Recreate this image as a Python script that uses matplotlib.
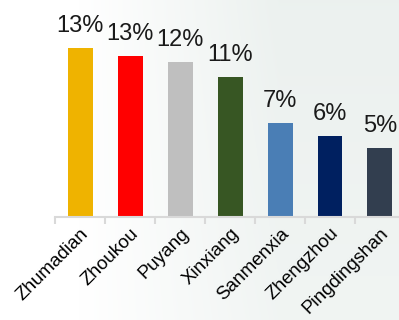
import numpy as np
import matplotlib.pyplot as plt

cities = ['Zhumadian', 'Zhoukou', 'Puyang', 'Xinxiang', 'Sanmenxia', 'Zhengzhou', 'Pingdingshan']
shares = [13.0, 12.4, 11.9, 10.8, 7.2, 6.2, 5.3]
share_labels = ['13%', '13%', '12%', '11%', '7%', '6%', '5%']
colors = ['#EFB300', '#FF0000', '#BFBFBF', '#375623', '#4A7EB5', '#002060', '#323E4F']

plt.rcParams['font.family'] = ['Liberation Sans', 'DejaVu Sans']

fig = plt.figure(figsize=(3.99, 3.2), dpi=100)

# faint background wash, white on the left fading to pale grey-green
bg = fig.add_axes([0, 0, 1, 1], zorder=0)
gx = np.linspace(0, 1, 200)
gy = np.linspace(0, 1, 160)
X, Y = np.meshgrid(gx, gy)
t = np.clip((X - 0.2) / 0.5, 0, 1) * (0.75 + 0.25 * Y)
white = np.array([1.0, 1.0, 1.0])
tint = np.array([0.925, 0.945, 0.937])
img = white * (1 - t[..., None]) + tint * t[..., None]
bg.imshow(img, extent=[0, 1, 0, 1], aspect='auto', origin='lower')
bg.axis('off')

ax = fig.add_axes([0.138, 0.323, 0.877, 0.5675], zorder=1)
ax.patch.set_alpha(0)

x = np.arange(len(cities))
bars = ax.bar(x, shares, width=0.5, color=colors)
for b, lab in zip(bars, share_labels):
    ax.annotate(lab, (b.get_x() + b.get_width() / 2, b.get_height()),
                xytext=(0, 11.5), textcoords='offset points',
                ha='center', va='baseline', fontsize=17, color='#1a1a1a',
                annotation_clip=False)

ax.set_xlim(-0.5, len(cities) - 0.5)
ax.set_ylim(0, 14)
ax.set_xticks(x)
ax.set_xticklabels(cities, rotation=45, ha='right', rotation_mode='anchor', fontsize=13.5)
ax.tick_params(axis='x', which='major', length=0, pad=6)
ax.set_xticks(np.arange(len(cities) + 1) - 0.5, minor=True)
ax.tick_params(axis='x', which='minor', length=5, width=1.5, color='#d9d9d9')
ax.set_yticks([])
for s in ['top', 'right', 'left']:
    ax.spines[s].set_visible(False)
ax.spines['bottom'].set_color('#d9d9d9')
ax.spines['bottom'].set_linewidth(1.5)

fig.savefig('out.png', dpi=100)
